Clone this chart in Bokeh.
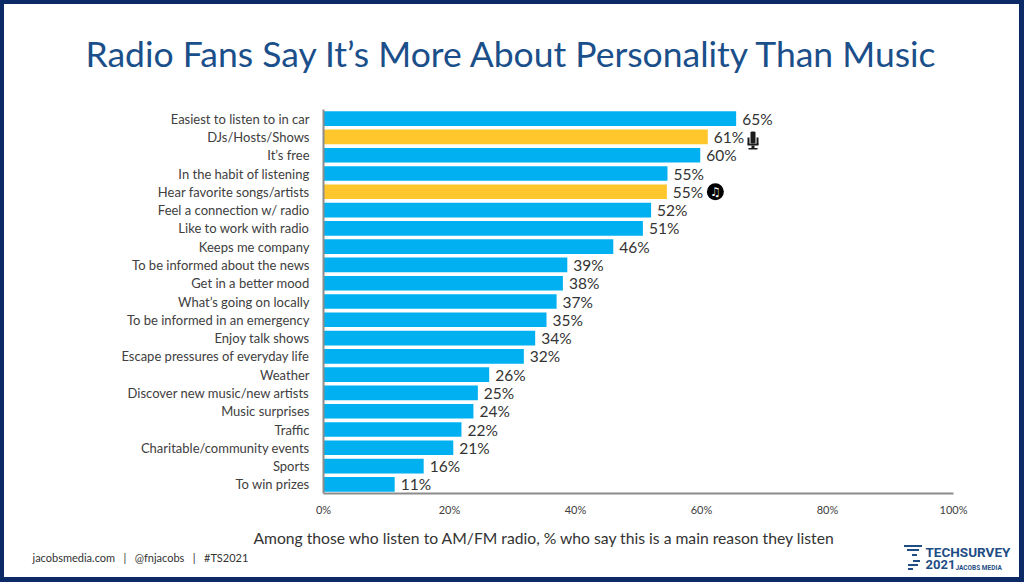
from bokeh.plotting import figure
from bokeh.embed import file_html
from bokeh.resources import INLINE
from bokeh.models import ColumnDataSource, Label, FixedTicker, PolyAnnotation
from bokeh.core.properties import value

categories = ["Easiest to listen to in car", "DJs/Hosts/Shows", "It\u2019s free", "In the habit of listening",
              "Hear favorite songs/artists", "Feel a connection w/ radio", "Like to work with radio", "Keeps me company",
              "To be informed about the news", "Get in a better mood", "What\u2019s going on locally",
              "To be informed in an emergency", "Enjoy talk shows", "Escape pressures of everyday life", "Weather",
              "Discover new music/new artists", "Music surprises", "Traffic", "Charitable/community events", "Sports",
              "To win prizes"]
values = [65.5, 61, 59.8, 54.6, 54.5, 52, 50.7, 46, 38.7, 38, 37, 35.4, 33.6, 31.8, 26.3, 24.5, 23.8, 21.9, 20.6, 15.9, 11.3]
labels = [65, 61, 60, 55, 55, 52, 51, 46, 39, 38, 37, 35, 34, 32, 26, 25, 24, 22, 21, 16, 11]
highlighted = ["DJs/Hosts/Shows", "Hear favorite songs/artists"]
x_ticks = [0, 20, 40, 60, 80, 100]
title = "Radio Fans Say It\u2019s More About Personality Than Music"
x_caption = "Among those who listen to AM/FM radio, % who say this is a main reason they listen"
footer = "jacobsmedia.com\u00a0\u00a0\u00a0|\u00a0\u00a0\u00a0@fnjacobs\u00a0\u00a0\u00a0|\u00a0\u00a0\u00a0#TS2021"

W, H = 1024, 582
FONT = "Lato"
BLUE, GOLD = "#00B0F0", "#FFC72C"
NAVY = "#0B2A66"
LOGO = "#1F4E85"
INK = "#1a1a1a"

# page decorations outside the plot frame (border and logo stripes) as CSS layers: x, y, w, h, colour
decor = [(0, 0, W, 4, NAVY), (0, 577, W, 5, NAVY), (0, 0, 4, H, NAVY), (1019, 0, 5, H, NAVY)]
for x0, x1, y0 in [(904, 922, 545), (907, 919, 549), (912, 917, 554), (913, 920, 560), (908, 918, 564), (908, 913, 568)]:
    decor.append((x0, y0, x1 - x0, 2, LOGO))
bg = ", ".join(f"linear-gradient({c},{c}) {x}px {y}px / {w}px {h}px no-repeat" for x, y, w, h, c in decor)

p = figure(width=W, height=H, y_range=categories[::-1], x_range=(0, 100),
           output_backend="svg", toolbar_location=None,
           min_border_left=323, min_border_right=71, min_border_top=109, min_border_bottom=89,
           frame_width=630, frame_height=384, border_fill_color=None, background_fill_color="white")
p.outline_line_color = None
p.grid.visible = False
p.styles = {"background": bg + ", white"}

src = ColumnDataSource(dict(cat=categories, val=values, txt=[f"{v}%" for v in labels],
                            col=[GOLD if c in highlighted else BLUE for c in categories]))
p.hbar(y="cat", right="val", left=0, height=0.8, fill_color="col", line_color=None, source=src)
p.text(x="val", y="cat", text="txt", source=src, x_offset=6, y_offset=0, text_baseline="middle", text_align="left",
       text_font=value(FONT), text_font_size="15.5px", text_color="#333333")

ax = p.xaxis[0]
ax.ticker = FixedTicker(ticks=x_ticks)
ax.major_label_overrides = {t: f"{t}%" for t in x_ticks}
ax.major_label_text_font = FONT
ax.major_label_text_font_size = "11px"
ax.major_label_text_color = "#404040"
ax.axis_line_color = "#8c8c8c"
ax.axis_line_width = 2
ax.major_tick_line_color = None
ax.major_tick_in = 0
ax.major_tick_out = 0
ax.minor_tick_line_color = None
ax.major_label_standoff = 9

ay = p.yaxis[0]
ay.major_label_text_font = FONT
ay.major_label_text_font_size = "13px"
ay.major_label_text_color = "#404040"
ay.axis_line_color = "#8c8c8c"
ay.axis_line_width = 2
ay.major_tick_line_color = None
ay.major_tick_in = 0
ay.major_tick_out = 0
ay.minor_tick_line_color = None
ay.major_label_standoff = 14

def label(x, y, text, size, color="#333333", align="left", style="normal", font=FONT):
    p.add_layout(Label(x=x, y=y, x_units="canvas", y_units="canvas", text=text, text_font=font,
                       text_font_size=size, text_color=color, text_align=align, text_baseline="middle",
                       text_font_style=style), "below")

def poly(xs, ys, color):
    p.add_layout(PolyAnnotation(xs=xs, ys=ys, xs_units="canvas", ys_units="canvas", fill_color=color, fill_alpha=1,
                                line_color=None), "below")

def box(x0, x1, y0, y1, color):
    poly([x0, x1, x1, x0], [y0, y0, y1, y1], color)

label(512, 53, title, "35.5px", "#1B4F8A", "center")
label(544, 537, x_caption, "15.7px", "#333333", "center")
label(32, 557, footer, "11px", "#333333")

# logo text
label(925, 551, "TECHSURVEY", "13.5px", LOGO, style="bold", font="Roboto")
label(925, 564, "2021", "13px", LOGO, style="bold", font="Roboto")
label(955, 567, "JACOBS MEDIA", "6.5px", LOGO, style="bold", font="Roboto")

# icons
poly([750, 751, 754, 755, 755, 754, 751, 750], [132, 131, 131, 132, 142, 143, 143, 142], INK)
box(747, 749, 137, 144, INK)
box(756, 758, 137, 144, INK)
box(747, 758, 143, 145, INK)
box(751, 754, 145, 148, INK)
box(748, 757, 147.5, 149, INK)
p.scatter(x=[62.2], y=["Hear favorite songs/artists"], size=17, marker="circle", fill_color="black", line_color=None)
p.text(x=[62.2], y=["Hear favorite songs/artists"], text=["\u266b"], text_align="center", text_baseline="middle",
       text_font=value("DejaVu Sans"), text_font_size="12px", text_color="white")

out = open("out.html", "w")
out.write(file_html(p, INLINE))
out.close()
